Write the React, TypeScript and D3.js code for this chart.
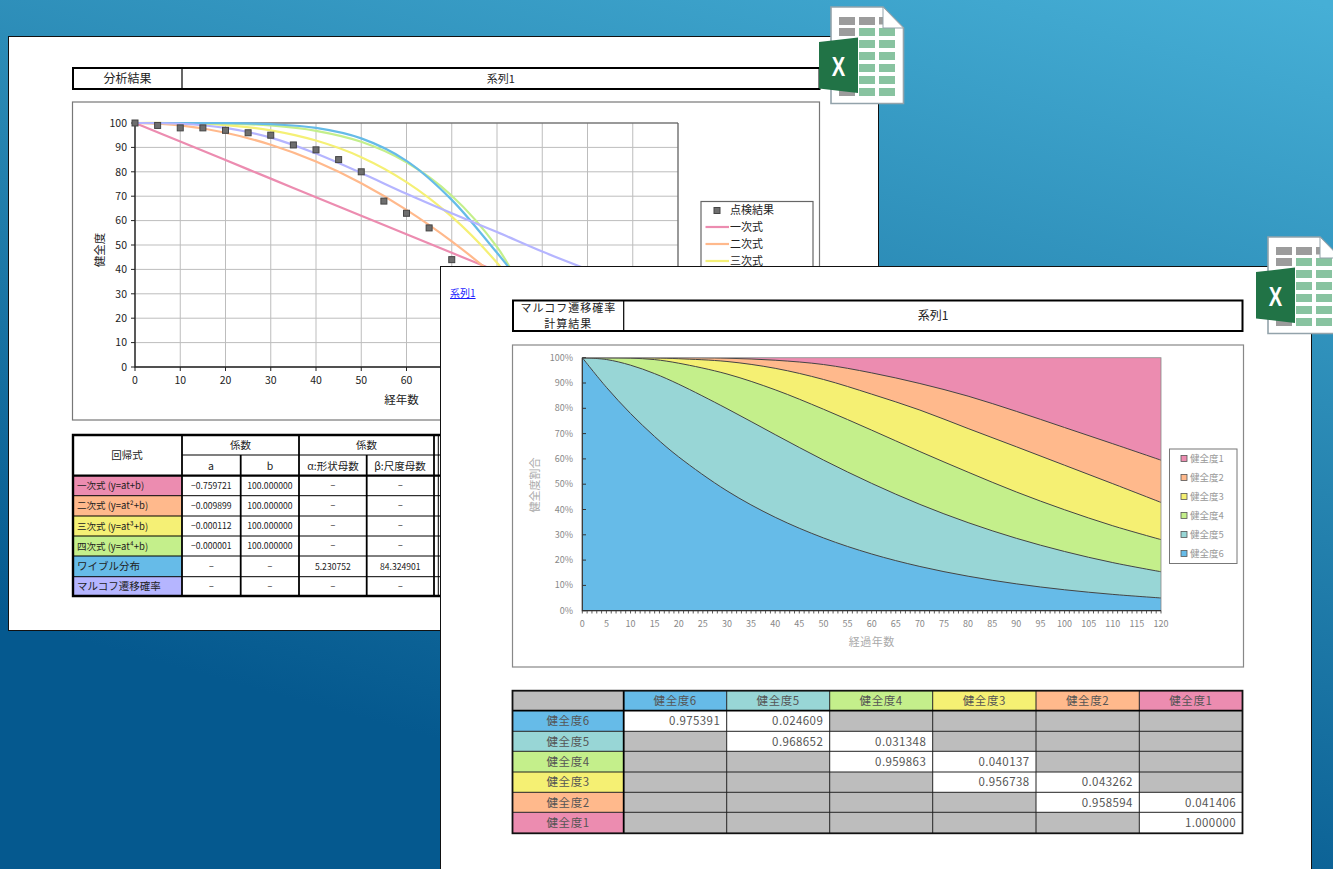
import React from "react";
import * as d3 from "d3";

const FONT = "'Noto Sans CJK JP','Noto Sans',sans-serif";

// ---- Chart 1: 分析結果
const curveYears = [0, 10, 20, 30, 40, 50, 60, 70, 80, 90, 100, 110];
const linearFit = [100, 92.4, 84.8, 77.2, 69.6, 62, 54.4, 46.8, 39.2, 31.6, 24, 16.4];
const quadraticFit = [100, 99, 96, 91.1, 84.2, 75.3, 64.4, 51.5, 36.6, 19.8, 1, 0];
const cubicFit = [100, 99.9, 99.1, 97, 92.8, 86, 75.8, 61.6, 42.7, 18.4, 0, 0];
const quarticFit = [100, 99.99, 99.8, 99, 96.8, 92.3, 83.9, 70.2, 49.2, 18.6, 0, 0];
const weibullFit = [100, 100, 99.95, 99.5, 98, 93.7, 84.5, 68.5, 46.8, 24.5, 9, 2];
const markovFit = [100, 99.7, 98, 94, 87.5, 79.5, 71, 63, 55.3, 47.3, 40, 33];
const inspectionYears = [0, 5, 10, 15, 20, 25, 30, 35, 40, 45, 50, 55, 60, 65, 70];
const inspectionValues = [100, 99, 98, 98, 97, 96, 95, 91, 89, 85, 80, 68, 63, 57, 44];

const fitColors = ["#ec8cb0", "#ffb98c", "#f5f075", "#c4ef8b", "#66bbe8", "#b5b5ff"];
const fitSeries = [linearFit, quadraticFit, cubicFit, quarticFit, weibullFit, markovFit];
const legendOne = ["一次式", "二次式", "三次式"];
const xTicksOne = [0, 10, 20, 30, 40, 50, 60];
const xGridOne = d3.range(0, 130, 10);
const yTicksOne = d3.range(0, 110, 10);

// ---- Table 1
const rowLabels = ["一次式 (y=at+b)", "二次式 (y=at²+b)", "三次式 (y=at³+b)", "四次式 (y=at⁴+b)", "ワイブル分布", "マルコフ遷移確率"];
const coefA = ["−0.759721", "−0.009899", "−0.000112", "−0.000001", "−", "−"];
const coefB = ["100.000000", "100.000000", "100.000000", "100.000000", "−", "−"];
const coefAlpha = ["−", "−", "−", "−", "5.230752", "−"];
const coefBeta = ["−", "−", "−", "−", "84.324901", "−"];
const t1Cols = [73, 182, 240.7, 299, 366.7, 434, 440];
const t1Rows = [435, 455, 475.7, 495.7, 516, 536, 556, 576.7, 596];

// ---- Chart 2: マルコフ遷移確率
const stackYears = [0, 5, 10, 15, 20, 30, 40, 50, 60, 70, 80, 90, 100, 110, 120];
const top6 = [100, 88.29, 77.95, 68.83, 60.77, 47.37, 36.92, 28.77, 22.42, 17.48, 13.63, 10.62, 8.28, 6.45, 5.03];
const top5 = [100, 99.28, 97.05, 93.7, 89.51, 79.87, 69.6, 59.55, 50.33, 42.02, 34.81, 28.62, 23.4, 19.01, 15.4];
const top4 = [100, 99.97, 99.83, 99.25, 97.82, 93.56, 87.31, 79.64, 71.37, 62.9, 54.75, 46.93, 39.9, 33.57, 28.1];
const top3 = [100, 100, 100, 99.9, 99.6, 98.5, 95.8, 91.4, 85.6, 79.3, 72, 64.8, 57.5, 50.2, 42.8];
const top2 = [100, 100, 100, 100, 100, 99.8, 99, 97.3, 94, 89.8, 84.8, 78.8, 72.4, 66, 59.5];
const top1 = [100, 100, 100, 100, 100, 100, 100, 100, 100, 100, 100, 100, 100, 100, 100];
const stackTops = [top6, top5, top4, top3, top2, top1];
const stateColors = ["#66bbe8", "#98d6d6", "#c4ef8b", "#f5f073", "#ffb98c", "#ec8cb0"];
const stateNames = ["健全度6", "健全度5", "健全度4", "健全度3", "健全度2", "健全度1"];
const xTicksTwo = d3.range(0, 125, 5);
const xMinorTwo = d3.range(0, 121, 1);
const yTicksTwo = d3.range(0, 110, 10);

// ---- Table 2
const transition = [
  ["0.975391", "0.024609", "", "", "", ""],
  ["", "0.968652", "0.031348", "", "", ""],
  ["", "", "0.959863", "0.040137", "", ""],
  ["", "", "", "0.956738", "0.043262", ""],
  ["", "", "", "", "0.958594", "0.041406"],
  ["", "", "", "", "", "1.000000"],
];
const t2Cols = [512.5, 623.7, 726.7, 829.7, 932.7, 1036, 1139.3, 1242.5];
const t2Rows = [690.7, 710.7, 731.3, 751.3, 772, 792.3, 812.3, 833.3];

// ---- Excel icon
const iconGray = [[839, 17], [859, 17], [839, 28], [839, 88]];
const iconGreen = [
  [859, 28], [879, 28], [859, 40], [879, 40], [859, 52], [879, 52],
  [859, 64], [879, 64], [859, 76], [879, 76], [859, 88], [879, 88],
];

function ExcelIcon({ dx, dy }: { dx: number; dy: number }) {
  return (
    <g transform={`translate(${dx},${dy})`}>
      <path d="M831 7 H883 L903.5 28 V103.5 H831 Z" fill="#fff" stroke="#93a3ab" strokeWidth={1.6} />
      <rect x={879} y={17} width={6} height={7.5} fill="#9c9c9c" />
      {iconGray.map(([x, y], i) => <rect key={i} x={x} y={y} width={16} height={8} fill="#9c9c9c" />)}
      {iconGreen.map(([x, y], i) => <rect key={i} x={x} y={y} width={16} height={8} fill="#88c3a0" />)}
      <path d="M883 7 V28 H903.5 Z" fill="#fff" stroke="#93a3ab" strokeWidth={1} />
      <path d="M819 42 L858 37.5 V93 L819 88.5 Z" fill="#217346" />
      <text transform="translate(838.5,75.5) scale(0.72,1)" textAnchor="middle" fontFamily="'Liberation Sans',sans-serif" fontWeight={700} fontSize={28} fill="#fff">X</text>
    </g>
  );
}

function AnalysisChart() {
  const x = d3.scaleLinear().domain([0, 120]).range([135, 678]);
  const y = d3.scaleLinear().domain([0, 100]).range([367, 123]);
  const line = d3.line<[number, number]>().x((d) => x(d[0])).y((d) => y(Math.max(0, d[1]))).curve(d3.curveCatmullRom);
  return (
    <g fontFamily={FONT}>
      <rect x={72.5} y={102} width={747} height={318} fill="#fff" stroke="#777" strokeWidth={1.2} />
      {xGridOne.map((v) => <line key={v} x1={x(v)} x2={x(v)} y1={123} y2={367} stroke="#bdbdbd" strokeWidth={1} />)}
      {yTicksOne.map((v) => <line key={v} x1={135} x2={678} y1={y(v)} y2={y(v)} stroke="#bdbdbd" strokeWidth={1} />)}
      <path d="M135 123 H678 V367" fill="none" stroke="#555" strokeWidth={1} />
      <path d="M135 123 V367 H678" fill="none" stroke="#222" strokeWidth={1.4} />
      {yTicksOne.map((v) => (
        <g key={v}>
          <line x1={131} x2={135} y1={y(v)} y2={y(v)} stroke="#222" />
          <text x={127} y={y(v) + 3.8} textAnchor="end" fontSize={10.5} fill="#222">{v}</text>
        </g>
      ))}
      {xTicksOne.map((v) => (
        <g key={v}>
          <line x1={x(v)} x2={x(v)} y1={367} y2={371} stroke="#222" />
          <text x={x(v)} y={384} textAnchor="middle" fontSize={10.5} fill="#222">{v}</text>
        </g>
      ))}
      <text x={401.5} y={404} textAnchor="middle" fontSize={11.5} fill="#222">経年数</text>
      <text transform="translate(104,250) rotate(-90)" textAnchor="middle" fontSize={11.5} fill="#222">健全度</text>
      {fitSeries.map((s, i) => (
        <path key={i} d={line(curveYears.map((t, k) => [t, s[k]] as [number, number])) || ""} fill="none" stroke={fitColors[i]} strokeWidth={2.2} />
      ))}
      {inspectionYears.map((t, i) => (
        <rect key={t} x={x(t) - 3} y={y(inspectionValues[i]) - 3} width={6} height={6} fill="#6e6e6e" stroke="#444" strokeWidth={1} />
      ))}
      <rect x={701} y={201.5} width={112} height={90} fill="#fff" stroke="#666" strokeWidth={1.2} />
      <rect x={714} y={207.5} width={6} height={6} fill="#6e6e6e" stroke="#444" strokeWidth={1} />
      <text x={730} y={214} fontSize={11} fill="#222">点検結果</text>
      {legendOne.map((t, i) => (
        <g key={t}>
          <line x1={705.5} x2={729} y1={227 + i * 17} y2={227 + i * 17} stroke={fitColors[i]} strokeWidth={2.2} />
          <text x={730} y={231 + i * 17} fontSize={11} fill="#222">{t}</text>
        </g>
      ))}
    </g>
  );
}

function TitleBar({ x0, x1, xd, y0, y1, size, gap, spacing, rightSize, left, right }: { x0: number; x1: number; xd: number; y0: number; y1: number; size: number; gap: number; spacing: number; rightSize: number; left: string[]; right: string }) {
  const mid = (y0 + y1) / 2;
  return (
    <g fontFamily={FONT} fill="#222" textAnchor="middle">
      <rect x={x0} y={y0} width={x1 - x0} height={y1 - y0} fill="#fff" stroke="#000" strokeWidth={2} />
      <line x1={xd} x2={xd} y1={y0} y2={y1} stroke="#000" strokeWidth={1.2} />
      {left.map((t, i) => (
        <text key={t} x={(x0 + xd) / 2} y={mid + size * 0.37 + (i - (left.length - 1) / 2) * gap} fontSize={size} letterSpacing={spacing}>{t}</text>
      ))}
      <text x={(xd + x1) / 2} y={mid + rightSize * 0.37} fontSize={rightSize}>{right}</text>
    </g>
  );
}

function AnalysisTable() {
  const rowY = (i: number) => t1Rows[i + 2];
  const colCenter = (i: number) => (t1Cols[i] + t1Cols[i + 1]) / 2;
  const cols = [coefA, coefB, coefAlpha, coefBeta];
  const [L, , , , , , R] = t1Cols;
  const top = t1Rows[0], bottom = t1Rows[8];
  return (
    <g fontFamily={FONT} fill="#222">
      <rect x={L} y={top} width={R - L} height={bottom - top} fill="#fff" />
      {rowLabels.map((t, i) => (
        <g key={t}>
          <rect x={L} y={rowY(i)} width={t1Cols[1] - L} height={rowY(i + 1) - rowY(i)} fill={fitColors[i]} />
          <text x={77} y={(rowY(i) + rowY(i + 1)) / 2 + 3.6} fontSize={i < 4 ? 9.5 : 10.5} fill="#222">{t}</text>
          {cols.map((c, k) => (
            <text key={k} x={colCenter(k + 1)} y={(rowY(i) + rowY(i + 1)) / 2 + 3.2} textAnchor="middle" fontSize={8.6} fill="#222">{c[i]}</text>
          ))}
        </g>
      ))}
      {t1Rows.slice(3, 8).map((v) => <line key={v} x1={L} x2={R} y1={v} y2={v} stroke="#000" strokeWidth={1} />)}
      <line x1={t1Cols[1]} x2={R} y1={t1Rows[1]} y2={t1Rows[1]} stroke="#000" strokeWidth={1.2} />
      <line x1={L} x2={R} y1={t1Rows[2]} y2={t1Rows[2]} stroke="#000" strokeWidth={2.2} />
      {[t1Cols[1], t1Cols[3], t1Cols[5]].map((v) => <line key={v} x1={v} x2={v} y1={top} y2={bottom} stroke="#000" strokeWidth={1.8} />)}
      {[t1Cols[2], t1Cols[4]].map((v) => <line key={v} x1={v} x2={v} y1={t1Rows[1]} y2={bottom} stroke="#000" strokeWidth={1.8} />)}
      <line x1={438.3} x2={438.3} y1={top} y2={bottom} stroke="#000" strokeWidth={1} />
      <path d={`M${R} ${top} H${L} V${bottom} H${R}`} fill="none" stroke="#000" strokeWidth={2.4} />
      <g textAnchor="middle" fontSize={10.5}>
        <text x={127} y={459}>回帰式</text>
        <text x={240.5} y={449}>係数</text>
        <text x={366.5} y={449}>係数</text>
        <text x={211} y={470}>a</text>
        <text x={270} y={470}>b</text>
        <text x={333} y={470}>α:形状母数</text>
        <text x={400} y={470}>β:尺度母数</text>
      </g>
    </g>
  );
}

function MarkovChart() {
  const x = d3.scaleLinear().domain([0, 120]).range([582.3, 1161]);
  const y = d3.scaleLinear().domain([0, 1]).range([610.7, 357.7]);
  const pts = (s: number[]) => stackYears.map((t, k) => [t, s[k] / 100] as [number, number]);
  const area = d3.area<[number, number]>().x((d) => x(d[0])).y0(y(0)).y1((d) => y(d[1])).curve(d3.curveCatmullRom);
  const line = d3.line<[number, number]>().x((d) => x(d[0])).y((d) => y(d[1])).curve(d3.curveCatmullRom);
  const tickFmt = d3.format(".0%");
  return (
    <g fontFamily={FONT}>
      <defs>
        <clipPath id="plot2"><rect x={582.3} y={357.7} width={578.7} height={253} /></clipPath>
      </defs>
      <rect x={512.5} y={345} width={731} height={322} fill="#fff" stroke="#888" strokeWidth={1.2} />
      <g clipPath="url(#plot2)">
        {[...stackTops].reverse().map((s, i) => (
          <path key={i} d={area(pts(s)) || ""} fill={stateColors[5 - i]} />
        ))}
        {stackTops.slice(0, 5).map((s, i) => (
          <path key={i} d={line(pts(s)) || ""} fill="none" stroke="#444" strokeWidth={1} />
        ))}
      </g>
      <rect x={582.3} y={357.7} width={578.7} height={253} fill="none" stroke="#888" strokeWidth={0.8} />
      <path d="M582.3 357.7 V610.7 H1161" fill="none" stroke="#333" strokeWidth={1.2} />
      {yTicksTwo.map((v) => (
        <g key={v}>
          <line x1={582.3} x2={586} y1={y(v / 100)} y2={y(v / 100)} stroke="#333" />
          <text x={573} y={y(v / 100) + 3} textAnchor="end" fontSize={9} fill="#888">{tickFmt(v / 100)}</text>
        </g>
      ))}
      {xMinorTwo.map((v) => <line key={v} x1={x(v)} x2={x(v)} y1={610.7} y2={613.5} stroke="#333" strokeWidth={0.8} />)}
      {xTicksTwo.map((v) => (
        <text key={v} x={x(v)} y={627} textAnchor="middle" fontSize={9} fill="#888">{v}</text>
      ))}
      <text x={871.7} y={646} textAnchor="middle" fontSize={11} fill="#aaa" letterSpacing={0.5}>経過年数</text>
      <text transform="translate(538.5,485) rotate(-90)" textAnchor="middle" fontSize={11} fill="#aaa">健全度割合</text>
      <rect x={1169.5} y={449} width={67.5} height={114.5} fill="#fff" stroke="#777" strokeWidth={1} />
      {[...stateNames].reverse().map((t, i) => (
        <g key={t}>
          <rect x={1181} y={455.5 + i * 19} width={6} height={6} fill={stateColors[5 - i]} stroke="#555" strokeWidth={0.8} />
          <text x={1190} y={461.5 + i * 19} fontSize={9.5} fill="#999">{t}</text>
        </g>
      ))}
    </g>
  );
}

function TransitionTable() {
  const w = (i: number) => t2Cols[i + 1] - t2Cols[i];
  const h = (i: number) => t2Rows[i + 1] - t2Rows[i];
  const L = t2Cols[0], R = t2Cols[7], T = t2Rows[0], B = t2Rows[7];
  return (
    <g fontFamily={FONT} fontSize={11.5} fill="#555">
      <rect x={L} y={T} width={t2Cols[1] - L} height={h(0)} fill="#bdbdbd" />
      {stateNames.map((n, i) => (
        <g key={n}>
          <rect x={t2Cols[i + 1]} y={T} width={w(i + 1)} height={h(0)} fill={stateColors[i]} />
          <text x={t2Cols[i + 1] + w(i + 1) / 2} y={T + 14.3} textAnchor="middle" letterSpacing={0.6}>{n}</text>
          <rect x={L} y={t2Rows[i + 1]} width={t2Cols[1] - L} height={h(i + 1)} fill={stateColors[i]} />
          <text x={L + (t2Cols[1] - L) / 2} y={t2Rows[i + 1] + 14.3} textAnchor="middle" letterSpacing={0.6}>{n}</text>
        </g>
      ))}
      {transition.map((row, r) =>
        row.map((v, c) => (
          <g key={`${r}-${c}`}>
            <rect x={t2Cols[c + 1]} y={t2Rows[r + 1]} width={w(c + 1)} height={h(r + 1)} fill={v ? "#fff" : "#bdbdbd"} />
            {v && <text x={t2Cols[c + 2] - 6.5} y={t2Rows[r + 1] + 14.3} textAnchor="end" letterSpacing={0.4}>{v}</text>}
          </g>
        ))
      )}
      {t2Rows.slice(2, 7).map((v) => <line key={v} x1={L} x2={R} y1={v} y2={v} stroke="#222" strokeWidth={1} />)}
      {t2Cols.slice(2, 7).map((v) => <line key={v} x1={v} x2={v} y1={T} y2={B} stroke="#222" strokeWidth={1} />)}
      <line x1={L} x2={R} y1={t2Rows[1]} y2={t2Rows[1]} stroke="#000" strokeWidth={1.8} />
      <line x1={t2Cols[1]} x2={t2Cols[1]} y1={T} y2={B} stroke="#000" strokeWidth={1.8} />
      <rect x={L} y={T} width={R - L} height={B - T} fill="none" stroke="#111" strokeWidth={1.8} />
    </g>
  );
}

export default function App() {
  return (
    <svg width={1333} height={869} viewBox="0 0 1333 869" style={{ position: "absolute", left: 0, top: 0, display: "block" }}>
      <defs>
        <linearGradient id="bg" gradientUnits="userSpaceOnUse" x1={1200} y1={-30} x2={950} y2={880}>
          <stop offset="0" stopColor="#46afd6" />
          <stop offset="0.5" stopColor="#2684b0" />
          <stop offset="1" stopColor="#05598f" />
        </linearGradient>
      </defs>
      <rect x={0} y={0} width={1333} height={869} fill="url(#bg)" />

      <rect x={8.5} y={36.5} width={870} height={594} fill="#fff" stroke="#111" strokeWidth={1} />
      <TitleBar x0={73} x1={819.5} xd={182} y0={68} y1={89} size={12} gap={14} spacing={0} rightSize={11} left={["分析結果"]} right="系列1" />
      <AnalysisChart />
      <AnalysisTable />
      <ExcelIcon dx={0} dy={0} />

      <rect x={440.5} y={266.5} width={871} height={620} fill="#fff" stroke="#111" strokeWidth={1} />
      <text x={450} y={297} fontFamily={FONT} fontSize={10} fill="#1a1aff" textDecoration="underline">系列1</text>
      <TitleBar x0={513} x1={1242.5} xd={623.7} y0={300.5} y1={331} size={11} gap={16} spacing={1} rightSize={12} left={["マルコフ遷移確率", "計算結果"]} right="系列1" />
      <MarkovChart />
      <TransitionTable />
      <ExcelIcon dx={437} dy={230} />
    </svg>
  );
}
